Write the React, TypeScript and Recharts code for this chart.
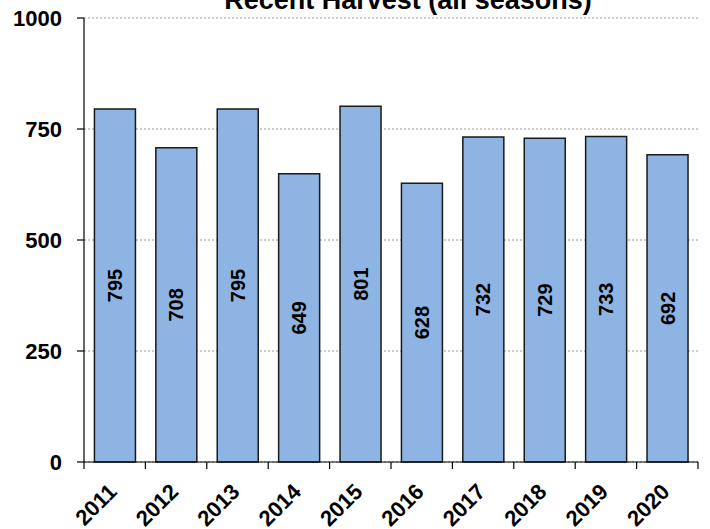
import { BarChart, Bar, XAxis, YAxis, CartesianGrid, LabelList } from 'recharts'

const years = ['2011', '2012', '2013', '2014', '2015', '2016', '2017', '2018', '2019', '2020']
const harvest = [795, 708, 795, 649, 801, 628, 732, 729, 733, 692]
const yTicks = [0, 250, 500, 750, 1000]

const W = 710
const H = 529
const margin = { top: 18, right: 12, left: 0, bottom: 0 }
const yAxisWidth = 84
const band = (W - margin.left - margin.right - yAxisWidth) / years.length
const font = '"Liberation Sans", Arial, sans-serif'

const chartData = years.map((year, i) => ({ year, value: harvest[i] }))

function YearTick(props: any) {
  const { x, y, payload, index } = props
  const isLast = index === years.length - 1
  return (
    <g>
      <line x1={x - band / 2} y1={y} x2={x - band / 2} y2={y + 7} stroke="#000" strokeWidth={1.2} />
      {isLast && (
        <line x1={x + band / 2} y1={y} x2={x + band / 2} y2={y + 7} stroke="#000" strokeWidth={1.2} />
      )}
      <text
        transform={`translate(${x + 3.5},${y + 31}) rotate(-45)`}
        textAnchor="end"
        fontFamily={font}
        fontWeight="bold"
        fontSize={22}
        fill="#000"
      >
        {payload.value}
      </text>
    </g>
  )
}

function ValueLabel(props: any) {
  const { x, y, width, height, value } = props
  const cx = x + width / 2
  const cy = y + height / 2
  return (
    <text
      transform={`translate(${cx},${cy}) rotate(-90)`}
      textAnchor="middle"
      dominantBaseline="central"
      fontFamily={font}
      fontWeight="bold"
      fontSize={20}
      fill="#000"
    >
      {value}
    </text>
  )
}

export default function App() {
  return (
    <div style={{ position: 'absolute', left: 0, top: 0, width: W, height: H, background: '#fff' }}>
      <BarChart width={W} height={H} data={chartData} margin={margin} barCategoryGap="17%">
        <text
          x={408}
          y={9}
          textAnchor="middle"
          fontFamily={font}
          fontWeight="bold"
          fontSize={27}
          fill="#000"
        >
          Recent Harvest (all seasons)
        </text>
        <CartesianGrid vertical={false} stroke="#9a9a9a" strokeDasharray="2 2" />
        <XAxis
          dataKey="year"
          height={67}
          tickLine={false}
          tickSize={0}
          tickMargin={0}
          interval={0}
          axisLine={{ stroke: '#000', strokeWidth: 1.2 }}
          tick={<YearTick />}
        />
        <YAxis
          width={yAxisWidth}
          domain={[0, 1000]}
          ticks={yTicks}
          interval={0}
          tickSize={7}
          tickMargin={15}
          axisLine={{ stroke: '#000', strokeWidth: 1.2 }}
          tickLine={{ stroke: '#000', strokeWidth: 1.2 }}
          tick={{ fontFamily: font, fontWeight: 'bold', fontSize: 22, fill: '#000' }}
        />
        <Bar dataKey="value" fill="#8EB4E3" stroke="#1a1a1a" strokeWidth={1.5} isAnimationActive={false}>
          <LabelList dataKey="value" content={<ValueLabel />} />
        </Bar>
      </BarChart>
    </div>
  )
}
